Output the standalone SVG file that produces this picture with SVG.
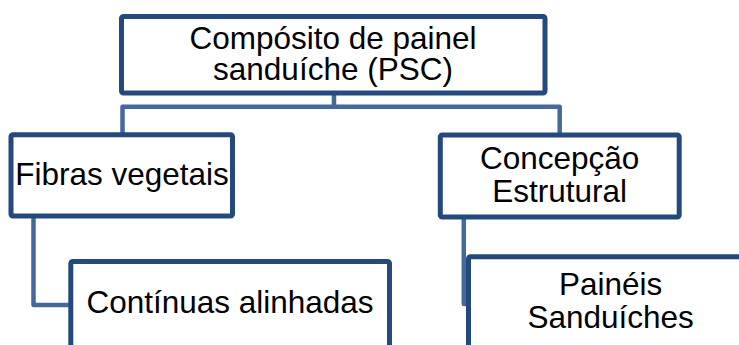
<svg xmlns="http://www.w3.org/2000/svg" width="739" height="345" viewBox="0 0 739 345">
<style>
.box{fill:#ffffff;stroke:#24497c;stroke-width:5;stroke-linejoin:round}
.con{fill:none;stroke:#44699d;stroke-width:4.5;stroke-linejoin:round;stroke-linecap:round}
text{font-family:"Liberation Sans",Arial,sans-serif;font-size:31.5px;fill:#000000;text-anchor:middle}
</style>
<rect width="739" height="345" fill="#ffffff"/>
<g id="connectors">
<path class="con" d="M334 93 V106.7"/>
<path class="con" d="M122.5 134.8 V106.7 H559.7 V135"/>
<path class="con" d="M33.5 216 V305 H70.8"/>
<path class="con" d="M463.8 217 V304 H468.5"/>
</g>
<g id="node-psc">
<rect class="box" x="121.5" y="16.5" width="423.5" height="76.5" rx="2"/>
<text x="333" y="48.5">Compósito de painel</text>
<text x="333" y="80">sanduíche (PSC)</text>
</g>
<g id="node-fibras">
<rect class="box" x="11" y="134.8" width="221.5" height="81.2" rx="2"/>
<text x="122" y="185">Fibras vegetais</text>
</g>
<g id="node-concepcao">
<rect class="box" x="440.3" y="135" width="238.9" height="82" rx="2"/>
<text x="559.7" y="168.7">Concepção</text>
<text x="559.7" y="201.7">Estrutural</text>
</g>
<g id="node-continuas">
<rect class="box" x="70.8" y="261.5" width="318.7" height="100" rx="2"/>
<text x="230" y="313.3">Contínuas alinhadas</text>
</g>
<g id="node-paineis">
<rect class="box" x="468.5" y="256.8" width="284.2" height="110" rx="2"/>
<text x="610.6" y="295">Painéis</text>
<text x="610.6" y="328.3">Sanduíches</text>
</g>
</svg>
